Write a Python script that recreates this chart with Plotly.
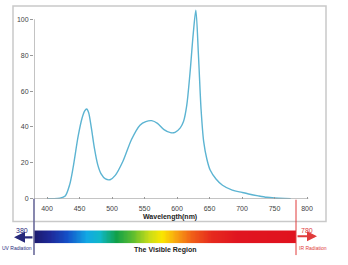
import plotly.graph_objects as go

# ---- data ----
wavelength = [400, 410, 420, 428, 435, 440, 448, 454, 458, 461, 464, 468, 473, 478, 483, 490, 497,
              505, 517, 530, 543, 552, 561, 570, 580, 590, 597, 605, 610, 615, 620, 625,
              629, 633, 637, 641, 646, 651, 660, 670, 685, 700, 712, 725, 738, 750, 765, 775]
intensity = [0, 0, 0.3, 1.5, 8, 17, 35, 45, 49, 50, 48, 40, 28, 19, 14, 11, 10.6,
             13, 21, 33, 41, 43, 43.5, 42, 38.5, 36.8, 37, 39.5, 43, 52, 70, 92,
             105, 80, 50, 32, 22, 16, 11, 7.5, 4.8, 3.5, 2.5, 1.6, 0.8, 0.4, 0.1, 0]

y_ticks = [0, 20, 40, 60, 80, 100]
x_ticks = [400, 450, 500, 550, 600, 650, 700, 750, 800]

# visible spectrum colour ramp (nm -> colour)
ramp_nm = [380, 405, 430, 460, 480, 505, 530, 555, 575, 595, 620, 650, 690, 780]
ramp_col = ["#1c1a6e", "#1e2a9a", "#1450c8", "#12a8e4", "#10b8c8", "#10a048", "#5cbc30",
            "#c8dc18", "#fae600", "#f8a810", "#f06018", "#e62a1e", "#e01520", "#e0121e"]
ramp_z = list(range(380, 781, 2))

W, H = 348, 265
def px(x):
    return x / W
def py(y):
    return (H - y) / H

fig = go.Figure()

fig.add_trace(go.Scatter(
    x=wavelength, y=intensity, mode="lines",
    line=dict(color="#5cb4d2", width=1.4, shape="spline", smoothing=0.8),
    xaxis="x", yaxis="y", hoverinfo="skip", showlegend=False))

lo, hi = ramp_nm[0], ramp_nm[-1]
cscale = [[(n - lo) / (hi - lo), c] for n, c in zip(ramp_nm, ramp_col)]
fig.add_trace(go.Heatmap(
    x=ramp_z, y=[0], z=[ramp_z], colorscale=cscale, zmin=lo, zmax=hi,
    zsmooth="best", showscale=False, xaxis="x2", yaxis="y2", hoverinfo="skip"))

font_fam = "Liberation Sans, Arial, sans-serif"
navy = "#27287a"
red = "#e03a3a"

shapes = [
    # outer frame
    dict(type="rect", xref="paper", yref="paper", x0=px(13), x1=px(326), y0=py(224), y1=py(6),
         line=dict(color="#c9c9c9", width=1.5), layer="below"),
    # y axis line (0..100)
    dict(type="line", xref="x", yref="y", x0=380, x1=380, y0=0, y1=100,
         line=dict(color="#b4b4b4", width=1.6)),
    # x axis line
    dict(type="line", xref="x", yref="y", x0=380, x1=802, y0=0, y1=0,
         line=dict(color="#9a9a9a", width=1)),
    # UV boundary
    dict(type="line", xref="paper", yref="paper", x0=px(34), x1=px(34), y0=py(201), y1=py(258),
         line=dict(color="#6a6a9a", width=1.6)),
    # IR boundary
    dict(type="line", xref="paper", yref="paper", x0=px(296), x1=px(296), y0=py(202), y1=py(258),
         line=dict(color=red, width=1)),
]

annotations = [
    dict(x=px(14), y=py(240), xref="paper", yref="paper", ax=20, ay=0, text="",
         showarrow=True, arrowhead=2, arrowsize=1, arrowwidth=2.2, arrowcolor=navy),
    dict(x=px(317), y=py(239), xref="paper", yref="paper", ax=-21, ay=0, text="",
         showarrow=True, arrowhead=2, arrowsize=1, arrowwidth=2, arrowcolor=red),
    dict(x=px(30), y=py(233), xref="paper", yref="paper", text="380", showarrow=False,
         xanchor="right", yanchor="middle", font=dict(size=7, color=navy, family=font_fam)),
    dict(x=px(17), y=py(251), xref="paper", yref="paper", text="UV Radiation", showarrow=False,
         xanchor="center", yanchor="middle", font=dict(size=5, color=navy, family=font_fam)),
    dict(x=px(299), y=py(233), xref="paper", yref="paper", text="780", showarrow=False,
         xanchor="left", yanchor="middle", font=dict(size=7, color=red, family=font_fam)),
    dict(x=px(297), y=py(251), xref="paper", yref="paper", text="IR Radiation", showarrow=False,
         xanchor="left", yanchor="middle", font=dict(size=5, color=red, family=font_fam)),
    dict(x=px(165), y=py(253), xref="paper", yref="paper", text="<b>The Visible Region</b>",
         showarrow=False, xanchor="center", yanchor="middle",
         font=dict(size=7, color="#222222", family=font_fam)),
    dict(x=px(170), y=py(219.5), xref="paper", yref="paper", text="<b>Wavelength(nm)</b>",
         showarrow=False, xanchor="center", yanchor="middle",
         font=dict(size=7, color="#222222", family=font_fam)),
]

fig.update_layout(
    width=W, height=H,
    margin=dict(l=0, r=0, t=0, b=0),
    paper_bgcolor="white", plot_bgcolor="rgba(0,0,0,0)",
    font=dict(family=font_fam, size=7, color="#444444"),
    xaxis=dict(domain=[px(34), px(313.5)], range=[380, 810], tickvals=x_ticks,
               ticks="inside", ticklen=2, tickcolor="#999999", showline=False,
               showgrid=False, zeroline=False, tickfont=dict(size=7, color="#444444"),
               ticklabelstandoff=4, anchor="y"),
    yaxis=dict(domain=[py(201), py(8.6)], range=[0, 106], tickvals=y_ticks,
               ticks="outside", ticklen=3, tickcolor="#999999", showline=False,
               showgrid=False, zeroline=False, tickfont=dict(size=7, color="#444444"),
               anchor="x"),
    xaxis2=dict(domain=[px(34), px(296)], range=[380, 780], visible=False, anchor="y2"),
    yaxis2=dict(domain=[py(246), py(233)], range=[-0.5, 0.5], visible=False, anchor="x2"),
    shapes=shapes, annotations=annotations,
)

fig.write_html("out.html")
